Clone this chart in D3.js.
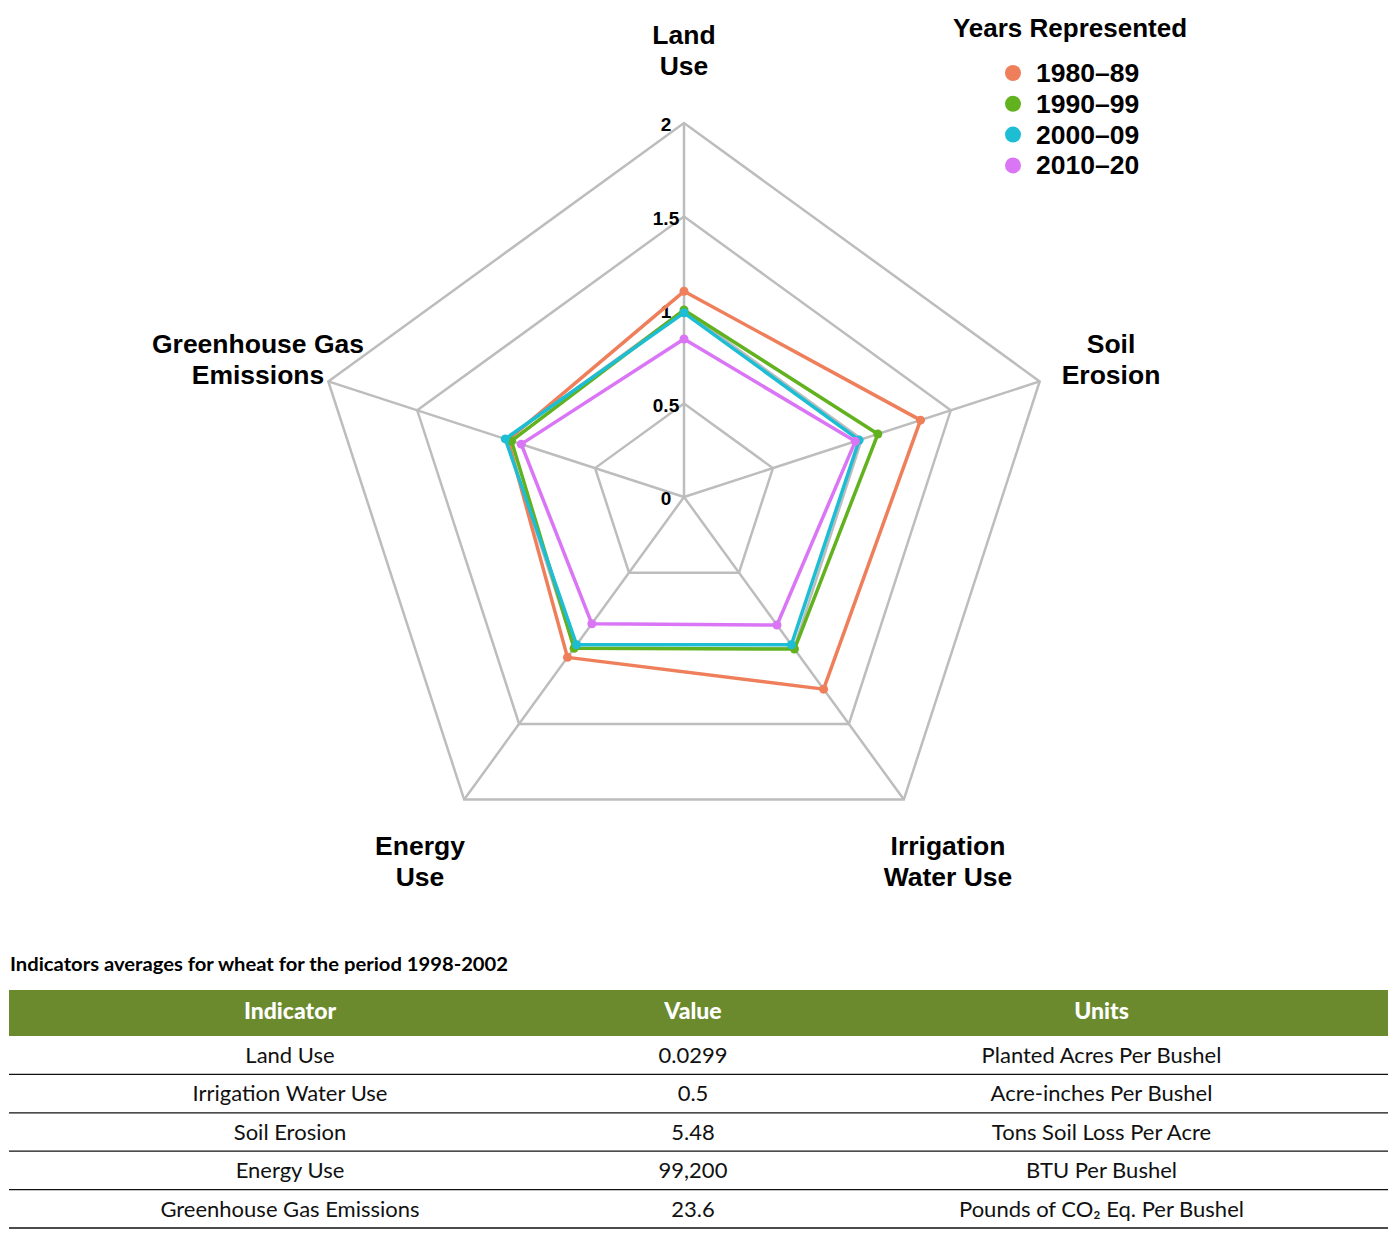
<!DOCTYPE html>
<html>
<head>
<meta charset="utf-8">
<script src="https://cdn.jsdelivr.net/npm/d3@7"></script>
<style>
  body { margin: 0; background: #fff; }
  svg text { font-family: "Liberation Sans", Arial, sans-serif; }
</style>
</head>
<body>
<svg id="chart" width="1394" height="1233"></svg>
<script>
// axes, clockwise from top
var axes = ["Land Use", "Soil Erosion", "Irrigation Water Use", "Energy Use", "Greenhouse Gas Emissions"];
var axisLines = [["Land", "Use"], ["Soil", "Erosion"], ["Irrigation", "Water Use"], ["Energy", "Use"], ["Greenhouse Gas", "Emissions"]];
var levels = [0, 0.5, 1, 1.5, 2];
var years = ["1980–89", "1990–99", "2000–09", "2010–20"];
var colors = ["#ef7f5b", "#62b11f", "#1dbdd3", "#da76f5"];

var v1980 = [1.10, 1.33, 1.27, 1.06, 0.99];
var v1990 = [1.00, 1.09, 1.005, 1.00, 0.97];
var v2000 = [0.985, 0.985, 0.977, 0.977, 1.005];
var v2010 = [0.845, 0.963, 0.846, 0.838, 0.915];
var series = [v1980, v1990, v2000, v2010];

// table data
var tblTitle = "Indicators averages for wheat for the period 1998-2002";
var tblHead = ["Indicator", "Value", "Units"];
var tblIndicators = ["Land Use", "Irrigation Water Use", "Soil Erosion", "Energy Use", "Greenhouse Gas Emissions"];
var tblValues = ["0.0299", "0.5", "5.48", "99,200", "23.6"];
var tblUnits = ["Planted Acres Per Bushel", "Acre-inches Per Bushel", "Tons Soil Loss Per Acre", "BTU Per Bushel", "Pounds of CO₂ Eq. Per Bushel"];

var svg = d3.select("#chart");
var cx = 684, cy = 497;
var r = d3.scaleLinear().domain([0, 2]).range([0, 374]);
var ang = d3.scalePoint().domain(axes).range([0, 2 * Math.PI * 4 / 5]);

function pt(axis, v) {
    var a = ang(axis) - Math.PI / 2;
    return [cx + r(v) * Math.cos(a), cy + r(v) * Math.sin(a)];
}

var grid = svg.append("g");
// pentagon rings
levels.slice(1).forEach(function (lv) {
    grid.append("path")
        .attr("d", d3.line()(axes.map(function (a) { return pt(a, lv); })) + "Z")
        .style("fill", "none")
        .style("stroke", "#bdbdbd")
        .style("stroke-width", 2.5);
});
// spokes
axes.forEach(function (a) {
    var p = pt(a, 2);
    grid.append("line")
        .attr("x1", cx).attr("y1", cy)
        .attr("x2", p[0]).attr("y2", p[1])
        .style("stroke", "#bdbdbd")
        .style("stroke-width", 2.5);
});

// tick labels
levels.forEach(function (lv) {
    svg.append("text")
        .attr("x", cx - 18)
        .attr("y", cy - r(lv) + 8)
        .attr("text-anchor", "middle")
        .style("font-size", "19px")
        .style("font-weight", "bold")
        .text(lv);
});

// axis labels
var labelPos = [[684, 44], [1111, 353], [948, 855], [420, 855], [258, 353]];
axisLines.forEach(function (lines, i) {
    var t = svg.append("text")
        .attr("text-anchor", "middle")
        .style("font-size", "26.5px")
        .style("font-weight", "bold");
    lines.forEach(function (s, j) {
        t.append("tspan")
            .attr("x", labelPos[i][0])
            .attr("y", labelPos[i][1] + j * 31)
            .text(s);
    });
});

// series
var radar = d3.line()
    .x(function (d, i) { return pt(axes[i], d)[0]; })
    .y(function (d, i) { return pt(axes[i], d)[1]; })
    .curve(d3.curveLinearClosed);

series.forEach(function (vals, k) {
    var g = svg.append("g");
    g.append("path")
        .attr("d", radar(vals))
        .style("fill", "none")
        .style("stroke", colors[k])
        .style("stroke-width", 3.5)
        .style("stroke-linejoin", "round");
    g.selectAll("circle")
        .data(vals)
        .enter().append("circle")
        .attr("cx", function (d, i) { return pt(axes[i], d)[0]; })
        .attr("cy", function (d, i) { return pt(axes[i], d)[1]; })
        .attr("r", 4.5)
        .style("fill", colors[k]);
});

// legend
svg.append("text")
    .attr("x", 1070).attr("y", 37)
    .attr("text-anchor", "middle")
    .style("font-size", "26px")
    .style("font-weight", "bold")
    .text("Years Represented");
years.forEach(function (y, i) {
    svg.append("circle")
        .attr("cx", 1013).attr("cy", 73 + i * 30.8)
        .attr("r", 8)
        .style("fill", colors[i]);
    svg.append("text")
        .attr("x", 1036).attr("y", 82 + i * 30.8)
        .style("font-size", "26.5px")
        .style("font-weight", "bold")
        .text(y);
});

// table
var tx0 = 9, tx1 = 1388;
var colEdges = [9, 571, 815, 1388];
var headTop = 990, headH = 46, rowH = 38.4;

svg.append("text")
    .attr("x", 10).attr("y", 971)
    .attr("textLength", 498)
    .attr("lengthAdjust", "spacingAndGlyphs")
    .style("font-family", "Lato, sans-serif")
    .style("font-size", "19px")
    .style("font-weight", "bold")
    .text(tblTitle);

svg.append("rect")
    .attr("x", tx0).attr("y", headTop)
    .attr("width", tx1 - tx0).attr("height", headH)
    .style("fill", "#6b8a2e");

tblHead.forEach(function (h, c) {
    svg.append("text")
        .attr("x", (colEdges[c] + colEdges[c + 1]) / 2)
        .attr("y", headTop + 29)
        .attr("text-anchor", "middle")
        .style("font-family", "Lato, sans-serif")
        .style("font-size", "23px")
        .style("font-weight", "900")
        .style("fill", "#fff")
        .text(h);
});

var cols = [tblIndicators, tblValues, tblUnits];
tblIndicators.forEach(function (d, i) {
    var top = headTop + headH + i * rowH;
    cols.forEach(function (col, c) {
        svg.append("text")
            .attr("x", (colEdges[c] + colEdges[c + 1]) / 2)
            .attr("y", top + 27)
            .attr("text-anchor", "middle")
            .style("font-family", "Lato, sans-serif")
            .style("font-size", "22px")
            .style("fill", "#111")
            .text(col[i]);
    });
    svg.append("line")
        .attr("x1", tx0).attr("x2", tx1)
        .attr("y1", top + rowH).attr("y2", top + rowH)
        .style("stroke", "#111")
        .style("stroke-width", 1.3);
});
</script>
</body>
</html>
